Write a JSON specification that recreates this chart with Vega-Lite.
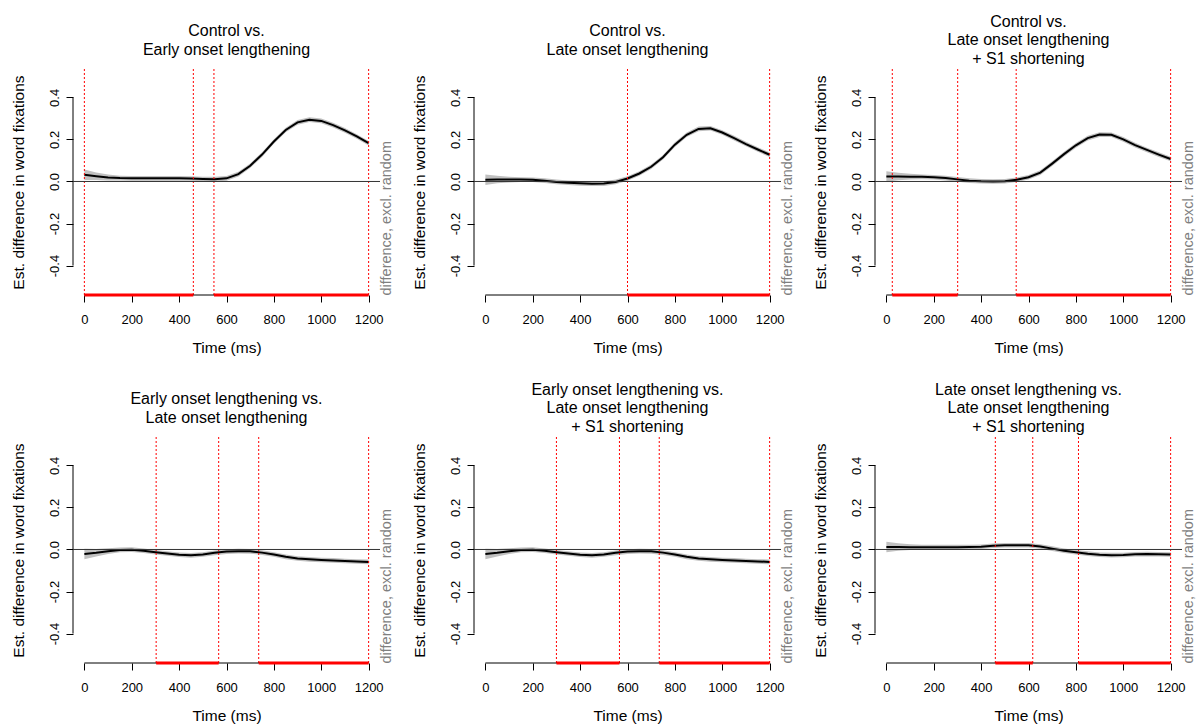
{
"$schema": "https://vega.github.io/schema/vega-lite/v6.json",
"background": "white",
"padding": {"left": 11, "top": 13, "right": 5, "bottom": 5},
"datasets": {
"curves": [
{"p":"p1","t":0,"fit":0.032,"lo":0.007,"hi":0.057},{"p":"p1","t":50,"fit":0.025,"lo":0.007,"hi":0.043},{"p":"p1","t":100,"fit":0.019,"lo":0.005,"hi":0.033},{"p":"p1","t":150,"fit":0.016,"lo":0.005,"hi":0.027},{"p":"p1","t":200,"fit":0.015,"lo":0.004,"hi":0.026},{"p":"p1","t":250,"fit":0.015,"lo":0.004,"hi":0.026},{"p":"p1","t":300,"fit":0.015,"lo":0.004,"hi":0.026},{"p":"p1","t":350,"fit":0.015,"lo":0.004,"hi":0.026},{"p":"p1","t":400,"fit":0.015,"lo":0.004,"hi":0.026},{"p":"p1","t":450,"fit":0.014,"lo":0.003,"hi":0.025},{"p":"p1","t":500,"fit":0.012,"lo":0.001,"hi":0.023},{"p":"p1","t":550,"fit":0.011,"lo":0.0,"hi":0.022},{"p":"p1","t":600,"fit":0.015,"lo":0.004,"hi":0.026},{"p":"p1","t":650,"fit":0.035,"lo":0.024,"hi":0.046},{"p":"p1","t":700,"fit":0.075,"lo":0.064,"hi":0.086},{"p":"p1","t":750,"fit":0.128,"lo":0.117,"hi":0.139},{"p":"p1","t":800,"fit":0.19,"lo":0.179,"hi":0.201},{"p":"p1","t":850,"fit":0.245,"lo":0.234,"hi":0.256},{"p":"p1","t":900,"fit":0.281,"lo":0.27,"hi":0.292},{"p":"p1","t":950,"fit":0.294,"lo":0.283,"hi":0.305},{"p":"p1","t":1000,"fit":0.288,"lo":0.277,"hi":0.299},{"p":"p1","t":1050,"fit":0.268,"lo":0.257,"hi":0.279},{"p":"p1","t":1100,"fit":0.243,"lo":0.232,"hi":0.254},{"p":"p1","t":1150,"fit":0.214,"lo":0.203,"hi":0.225},{"p":"p1","t":1200,"fit":0.182,"lo":0.171,"hi":0.193},
{"p":"p2","t":0,"fit":0.008,"lo":-0.017,"hi":0.033},{"p":"p2","t":50,"fit":0.009,"lo":-0.009,"hi":0.027},{"p":"p2","t":100,"fit":0.009,"lo":-0.005,"hi":0.023},{"p":"p2","t":150,"fit":0.009,"lo":-0.002,"hi":0.02},{"p":"p2","t":200,"fit":0.008,"lo":-0.003,"hi":0.019},{"p":"p2","t":250,"fit":0.004,"lo":-0.007,"hi":0.015},{"p":"p2","t":300,"fit":-0.002,"lo":-0.013,"hi":0.009},{"p":"p2","t":350,"fit":-0.006,"lo":-0.017,"hi":0.005},{"p":"p2","t":400,"fit":-0.009,"lo":-0.02,"hi":0.002},{"p":"p2","t":450,"fit":-0.011,"lo":-0.022,"hi":0.0},{"p":"p2","t":500,"fit":-0.01,"lo":-0.021,"hi":0.001},{"p":"p2","t":550,"fit":-0.002,"lo":-0.013,"hi":0.009},{"p":"p2","t":600,"fit":0.014,"lo":0.003,"hi":0.025},{"p":"p2","t":650,"fit":0.038,"lo":0.027,"hi":0.049},{"p":"p2","t":700,"fit":0.07,"lo":0.059,"hi":0.081},{"p":"p2","t":750,"fit":0.115,"lo":0.104,"hi":0.126},{"p":"p2","t":800,"fit":0.175,"lo":0.164,"hi":0.186},{"p":"p2","t":850,"fit":0.222,"lo":0.211,"hi":0.233},{"p":"p2","t":900,"fit":0.25,"lo":0.239,"hi":0.261},{"p":"p2","t":950,"fit":0.253,"lo":0.242,"hi":0.264},{"p":"p2","t":1000,"fit":0.233,"lo":0.222,"hi":0.244},{"p":"p2","t":1050,"fit":0.206,"lo":0.195,"hi":0.217},{"p":"p2","t":1100,"fit":0.178,"lo":0.167,"hi":0.189},{"p":"p2","t":1150,"fit":0.152,"lo":0.141,"hi":0.163},{"p":"p2","t":1200,"fit":0.127,"lo":0.116,"hi":0.138},
{"p":"p3","t":0,"fit":0.024,"lo":-0.001,"hi":0.049},{"p":"p3","t":50,"fit":0.024,"lo":0.006,"hi":0.042},{"p":"p3","t":100,"fit":0.023,"lo":0.009,"hi":0.037},{"p":"p3","t":150,"fit":0.022,"lo":0.011,"hi":0.033},{"p":"p3","t":200,"fit":0.02,"lo":0.009,"hi":0.031},{"p":"p3","t":250,"fit":0.016,"lo":0.005,"hi":0.027},{"p":"p3","t":300,"fit":0.01,"lo":-0.001,"hi":0.021},{"p":"p3","t":350,"fit":0.004,"lo":-0.007,"hi":0.015},{"p":"p3","t":400,"fit":0.001,"lo":-0.01,"hi":0.012},{"p":"p3","t":450,"fit":0.0,"lo":-0.011,"hi":0.011},{"p":"p3","t":500,"fit":0.001,"lo":-0.01,"hi":0.012},{"p":"p3","t":550,"fit":0.008,"lo":-0.003,"hi":0.019},{"p":"p3","t":600,"fit":0.02,"lo":0.009,"hi":0.031},{"p":"p3","t":650,"fit":0.042,"lo":0.031,"hi":0.053},{"p":"p3","t":700,"fit":0.085,"lo":0.074,"hi":0.096},{"p":"p3","t":750,"fit":0.13,"lo":0.119,"hi":0.141},{"p":"p3","t":800,"fit":0.172,"lo":0.161,"hi":0.183},{"p":"p3","t":850,"fit":0.206,"lo":0.195,"hi":0.217},{"p":"p3","t":900,"fit":0.223,"lo":0.212,"hi":0.234},{"p":"p3","t":950,"fit":0.222,"lo":0.211,"hi":0.233},{"p":"p3","t":1000,"fit":0.2,"lo":0.189,"hi":0.211},{"p":"p3","t":1050,"fit":0.173,"lo":0.162,"hi":0.184},{"p":"p3","t":1100,"fit":0.15,"lo":0.139,"hi":0.161},{"p":"p3","t":1150,"fit":0.128,"lo":0.117,"hi":0.139},{"p":"p3","t":1200,"fit":0.107,"lo":0.096,"hi":0.118},
{"p":"p4","t":0,"fit":-0.021,"lo":-0.046,"hi":0.004},{"p":"p4","t":50,"fit":-0.016,"lo":-0.034,"hi":0.002},{"p":"p4","t":100,"fit":-0.008,"lo":-0.022,"hi":0.006},{"p":"p4","t":150,"fit":-0.002,"lo":-0.013,"hi":0.009},{"p":"p4","t":200,"fit":-0.001,"lo":-0.012,"hi":0.01},{"p":"p4","t":250,"fit":-0.006,"lo":-0.017,"hi":0.005},{"p":"p4","t":300,"fit":-0.013,"lo":-0.024,"hi":-0.002},{"p":"p4","t":350,"fit":-0.019,"lo":-0.03,"hi":-0.008},{"p":"p4","t":400,"fit":-0.025,"lo":-0.036,"hi":-0.014},{"p":"p4","t":450,"fit":-0.028,"lo":-0.039,"hi":-0.017},{"p":"p4","t":500,"fit":-0.024,"lo":-0.035,"hi":-0.013},{"p":"p4","t":550,"fit":-0.016,"lo":-0.027,"hi":-0.005},{"p":"p4","t":600,"fit":-0.01,"lo":-0.021,"hi":0.001},{"p":"p4","t":650,"fit":-0.008,"lo":-0.019,"hi":0.003},{"p":"p4","t":700,"fit":-0.009,"lo":-0.02,"hi":0.002},{"p":"p4","t":750,"fit":-0.015,"lo":-0.026,"hi":-0.004},{"p":"p4","t":800,"fit":-0.024,"lo":-0.035,"hi":-0.013},{"p":"p4","t":850,"fit":-0.035,"lo":-0.046,"hi":-0.024},{"p":"p4","t":900,"fit":-0.043,"lo":-0.054,"hi":-0.032},{"p":"p4","t":950,"fit":-0.047,"lo":-0.058,"hi":-0.036},{"p":"p4","t":1000,"fit":-0.05,"lo":-0.061,"hi":-0.039},{"p":"p4","t":1050,"fit":-0.052,"lo":-0.063,"hi":-0.041},{"p":"p4","t":1100,"fit":-0.055,"lo":-0.066,"hi":-0.044},{"p":"p4","t":1150,"fit":-0.057,"lo":-0.068,"hi":-0.046},{"p":"p4","t":1200,"fit":-0.059,"lo":-0.07,"hi":-0.048},
{"p":"p5","t":0,"fit":-0.021,"lo":-0.046,"hi":0.004},{"p":"p5","t":50,"fit":-0.016,"lo":-0.034,"hi":0.002},{"p":"p5","t":100,"fit":-0.008,"lo":-0.022,"hi":0.006},{"p":"p5","t":150,"fit":-0.002,"lo":-0.013,"hi":0.009},{"p":"p5","t":200,"fit":-0.001,"lo":-0.012,"hi":0.01},{"p":"p5","t":250,"fit":-0.006,"lo":-0.017,"hi":0.005},{"p":"p5","t":300,"fit":-0.013,"lo":-0.024,"hi":-0.002},{"p":"p5","t":350,"fit":-0.019,"lo":-0.03,"hi":-0.008},{"p":"p5","t":400,"fit":-0.025,"lo":-0.036,"hi":-0.014},{"p":"p5","t":450,"fit":-0.028,"lo":-0.039,"hi":-0.017},{"p":"p5","t":500,"fit":-0.024,"lo":-0.035,"hi":-0.013},{"p":"p5","t":550,"fit":-0.016,"lo":-0.027,"hi":-0.005},{"p":"p5","t":600,"fit":-0.01,"lo":-0.021,"hi":0.001},{"p":"p5","t":650,"fit":-0.008,"lo":-0.019,"hi":0.003},{"p":"p5","t":700,"fit":-0.009,"lo":-0.02,"hi":0.002},{"p":"p5","t":750,"fit":-0.015,"lo":-0.026,"hi":-0.004},{"p":"p5","t":800,"fit":-0.024,"lo":-0.035,"hi":-0.013},{"p":"p5","t":850,"fit":-0.035,"lo":-0.046,"hi":-0.024},{"p":"p5","t":900,"fit":-0.043,"lo":-0.054,"hi":-0.032},{"p":"p5","t":950,"fit":-0.047,"lo":-0.058,"hi":-0.036},{"p":"p5","t":1000,"fit":-0.05,"lo":-0.061,"hi":-0.039},{"p":"p5","t":1050,"fit":-0.052,"lo":-0.063,"hi":-0.041},{"p":"p5","t":1100,"fit":-0.055,"lo":-0.066,"hi":-0.044},{"p":"p5","t":1150,"fit":-0.057,"lo":-0.068,"hi":-0.046},{"p":"p5","t":1200,"fit":-0.059,"lo":-0.07,"hi":-0.048},
{"p":"p6","t":0,"fit":0.012,"lo":-0.013,"hi":0.037},{"p":"p6","t":50,"fit":0.012,"lo":-0.006,"hi":0.03},{"p":"p6","t":100,"fit":0.011,"lo":-0.003,"hi":0.025},{"p":"p6","t":150,"fit":0.011,"lo":0.0,"hi":0.022},{"p":"p6","t":200,"fit":0.011,"lo":0.0,"hi":0.022},{"p":"p6","t":250,"fit":0.011,"lo":0.0,"hi":0.022},{"p":"p6","t":300,"fit":0.011,"lo":0.0,"hi":0.022},{"p":"p6","t":350,"fit":0.012,"lo":0.001,"hi":0.023},{"p":"p6","t":400,"fit":0.013,"lo":0.002,"hi":0.024},{"p":"p6","t":450,"fit":0.018,"lo":0.007,"hi":0.029},{"p":"p6","t":500,"fit":0.02,"lo":0.009,"hi":0.031},{"p":"p6","t":550,"fit":0.02,"lo":0.009,"hi":0.031},{"p":"p6","t":600,"fit":0.02,"lo":0.009,"hi":0.031},{"p":"p6","t":650,"fit":0.014,"lo":0.003,"hi":0.025},{"p":"p6","t":700,"fit":0.004,"lo":-0.007,"hi":0.015},{"p":"p6","t":750,"fit":-0.006,"lo":-0.017,"hi":0.005},{"p":"p6","t":800,"fit":-0.013,"lo":-0.024,"hi":-0.002},{"p":"p6","t":850,"fit":-0.02,"lo":-0.031,"hi":-0.009},{"p":"p6","t":900,"fit":-0.025,"lo":-0.036,"hi":-0.014},{"p":"p6","t":950,"fit":-0.027,"lo":-0.038,"hi":-0.016},{"p":"p6","t":1000,"fit":-0.026,"lo":-0.037,"hi":-0.015},{"p":"p6","t":1050,"fit":-0.023,"lo":-0.034,"hi":-0.012},{"p":"p6","t":1100,"fit":-0.022,"lo":-0.033,"hi":-0.011},{"p":"p6","t":1150,"fit":-0.023,"lo":-0.034,"hi":-0.012},{"p":"p6","t":1200,"fit":-0.024,"lo":-0.035,"hi":-0.013}
],
"sig": [
{"p":"p1","t":0,"t2":460},{"p":"p1","t":547,"t2":1200},
{"p":"p2","t":600,"t2":1200},
{"p":"p3","t":25,"t2":301},{"p":"p3","t":548,"t2":1200},
{"p":"p4","t":303,"t2":567},{"p":"p4","t":736,"t2":1200},
{"p":"p5","t":300,"t2":566},{"p":"p5","t":734,"t2":1200},
{"p":"p6","t":460,"t2":618},{"p":"p6","t":811,"t2":1200}
],
"vlines": [
{"p":"p1","t":0},{"p":"p1","t":460},{"p":"p1","t":547},{"p":"p1","t":1200},
{"p":"p2","t":600},{"p":"p2","t":1200},
{"p":"p3","t":25},{"p":"p3","t":301},{"p":"p3","t":548},{"p":"p3","t":1200},
{"p":"p4","t":303},{"p":"p4","t":567},{"p":"p4","t":736},{"p":"p4","t":1200},
{"p":"p5","t":300},{"p":"p5","t":566},{"p":"p5","t":734},{"p":"p5","t":1200},
{"p":"p6","t":460},{"p":"p6","t":618},{"p":"p6","t":811},{"p":"p6","t":1200}
]
},
"columns": 3,
"spacing": {"row": 142, "column": 94},
"bounds": "flush",
"concat": [
{"title": {"text": ["Control vs.", "Early onset lengthening"], "offset": 10.6}, "width": 307, "height": 226,
 "layer": [
  {"layer": [
   {"data": {"name": "curves"}, "transform": [{"filter": "datum.p === 'p1'"}], "mark": {"type": "area", "color": "#c0c0c0", "orient": "vertical"},
    "encoding": {"x": {"field": "t", "type": "quantitative", "scale": {"domain": [-48, 1248], "nice": false, "zero": false}, "axis": {"title": "Time (ms)", "values": [0, 200, 400, 600, 800, 1000, 1200], "format": "d", "labelPadding": 11, "titlePadding": 14}},
     "y": {"field": "lo", "type": "quantitative", "scale": {"domain": [-0.54, 0.535], "nice": false, "zero": false}, "axis": {"title": "Est. difference in word fixations", "values": [-0.4, -0.2, 0, 0.2, 0.4], "labelExpr": "replace(format(datum.value, '.1f'), '−', '-')", "labelAngle": 270, "labelAlign": "center", "labelBaseline": "bottom", "labelPadding": 5, "titlePadding": 21.5, "titleBaseline": "bottom"}},
     "y2": {"field": "hi"}}},
   {"data": {"name": "curves"}, "transform": [{"filter": "datum.p === 'p1'"}], "mark": {"type": "line", "color": "#000000", "strokeWidth": 2},
    "encoding": {"x": {"field": "t", "type": "quantitative", "scale": {"domain": [-48, 1248], "nice": false, "zero": false}}, "y": {"field": "fit", "type": "quantitative", "scale": {"domain": [-0.54, 0.535], "nice": false, "zero": false}}}},
   {"data": {"name": "vlines"}, "transform": [{"filter": "datum.p === 'p1'"}], "mark": {"type": "rule", "color": "#ff0000", "strokeDash": [2, 2], "strokeWidth": 1},
    "encoding": {"x": {"field": "t", "type": "quantitative", "scale": {"domain": [-48, 1248], "nice": false, "zero": false}}}},
   {"data": {"values": [{}]}, "mark": {"type": "rule", "color": "#000000"},
    "encoding": {"x": {"datum": 0, "scale": {"domain": [-48, 1248], "nice": false, "zero": false}}, "x2": {"datum": 1200}, "y": {"datum": -0.54, "scale": {"domain": [-0.54, 0.535], "nice": false, "zero": false}}}},
   {"data": {"name": "sig"}, "transform": [{"filter": "datum.p === 'p1'"}], "mark": {"type": "rule", "color": "#ff0000", "strokeWidth": 3},
    "encoding": {"x": {"field": "t", "type": "quantitative", "scale": {"domain": [-48, 1248], "nice": false, "zero": false}}, "x2": {"field": "t2"}, "y": {"datum": -0.54, "scale": {"domain": [-0.54, 0.535], "nice": false, "zero": false}}}},
   {"data": {"values": [{}]}, "mark": {"type": "rule", "color": "#000000"},
    "encoding": {"x": {"datum": -48, "scale": {"domain": [-48, 1248], "nice": false, "zero": false}}, "y": {"datum": -0.4, "scale": {"domain": [-0.54, 0.535], "nice": false, "zero": false}}, "y2": {"datum": 0.4}}}
  ]},
  {"data": {"values": [{}]}, "mark": {"type": "rule", "color": "#333333", "strokeWidth": 1},
   "encoding": {"y": {"datum": 0, "scale": {"domain": [-0.54, 0.535], "nice": false, "zero": false}, "axis": {"orient": "right", "title": "difference, excl. random", "labels": false, "ticks": false, "domain": false, "titleColor": "#7f7f7f", "titleFontSize": 14.5, "titleAngle": 270, "titleAnchor": "start", "titleAlign": "left", "titleBaseline": "top", "titlePadding": -1}}}}
 ],
 "resolve": {"axis": {"y": "independent"}}},
{"title": {"text": ["Control vs.", "Late onset lengthening"], "offset": 10.6}, "width": 307, "height": 226,
 "layer": [
  {"layer": [
   {"data": {"name": "curves"}, "transform": [{"filter": "datum.p === 'p2'"}], "mark": {"type": "area", "color": "#c0c0c0", "orient": "vertical"},
    "encoding": {"x": {"field": "t", "type": "quantitative", "scale": {"domain": [-48, 1248], "nice": false, "zero": false}, "axis": {"title": "Time (ms)", "values": [0, 200, 400, 600, 800, 1000, 1200], "format": "d", "labelPadding": 11, "titlePadding": 14}},
     "y": {"field": "lo", "type": "quantitative", "scale": {"domain": [-0.54, 0.535], "nice": false, "zero": false}, "axis": {"title": "Est. difference in word fixations", "values": [-0.4, -0.2, 0, 0.2, 0.4], "labelExpr": "replace(format(datum.value, '.1f'), '−', '-')", "labelAngle": 270, "labelAlign": "center", "labelBaseline": "bottom", "labelPadding": 5, "titlePadding": 21.5, "titleBaseline": "bottom"}},
     "y2": {"field": "hi"}}},
   {"data": {"name": "curves"}, "transform": [{"filter": "datum.p === 'p2'"}], "mark": {"type": "line", "color": "#000000", "strokeWidth": 2},
    "encoding": {"x": {"field": "t", "type": "quantitative", "scale": {"domain": [-48, 1248], "nice": false, "zero": false}}, "y": {"field": "fit", "type": "quantitative", "scale": {"domain": [-0.54, 0.535], "nice": false, "zero": false}}}},
   {"data": {"name": "vlines"}, "transform": [{"filter": "datum.p === 'p2'"}], "mark": {"type": "rule", "color": "#ff0000", "strokeDash": [2, 2], "strokeWidth": 1},
    "encoding": {"x": {"field": "t", "type": "quantitative", "scale": {"domain": [-48, 1248], "nice": false, "zero": false}}}},
   {"data": {"values": [{}]}, "mark": {"type": "rule", "color": "#000000"},
    "encoding": {"x": {"datum": 0, "scale": {"domain": [-48, 1248], "nice": false, "zero": false}}, "x2": {"datum": 1200}, "y": {"datum": -0.54, "scale": {"domain": [-0.54, 0.535], "nice": false, "zero": false}}}},
   {"data": {"name": "sig"}, "transform": [{"filter": "datum.p === 'p2'"}], "mark": {"type": "rule", "color": "#ff0000", "strokeWidth": 3},
    "encoding": {"x": {"field": "t", "type": "quantitative", "scale": {"domain": [-48, 1248], "nice": false, "zero": false}}, "x2": {"field": "t2"}, "y": {"datum": -0.54, "scale": {"domain": [-0.54, 0.535], "nice": false, "zero": false}}}},
   {"data": {"values": [{}]}, "mark": {"type": "rule", "color": "#000000"},
    "encoding": {"x": {"datum": -48, "scale": {"domain": [-48, 1248], "nice": false, "zero": false}}, "y": {"datum": -0.4, "scale": {"domain": [-0.54, 0.535], "nice": false, "zero": false}}, "y2": {"datum": 0.4}}}
  ]},
  {"data": {"values": [{}]}, "mark": {"type": "rule", "color": "#333333", "strokeWidth": 1},
   "encoding": {"y": {"datum": 0, "scale": {"domain": [-0.54, 0.535], "nice": false, "zero": false}, "axis": {"orient": "right", "title": "difference, excl. random", "labels": false, "ticks": false, "domain": false, "titleColor": "#7f7f7f", "titleFontSize": 14.5, "titleAngle": 270, "titleAnchor": "start", "titleAlign": "left", "titleBaseline": "top", "titlePadding": -1}}}}
 ],
 "resolve": {"axis": {"y": "independent"}}},
{"title": {"text": ["Control vs.", "Late onset lengthening", "+ S1 shortening"], "offset": 1.9}, "width": 307, "height": 226,
 "layer": [
  {"layer": [
   {"data": {"name": "curves"}, "transform": [{"filter": "datum.p === 'p3'"}], "mark": {"type": "area", "color": "#c0c0c0", "orient": "vertical"},
    "encoding": {"x": {"field": "t", "type": "quantitative", "scale": {"domain": [-48, 1248], "nice": false, "zero": false}, "axis": {"title": "Time (ms)", "values": [0, 200, 400, 600, 800, 1000, 1200], "format": "d", "labelPadding": 11, "titlePadding": 14}},
     "y": {"field": "lo", "type": "quantitative", "scale": {"domain": [-0.54, 0.535], "nice": false, "zero": false}, "axis": {"title": "Est. difference in word fixations", "values": [-0.4, -0.2, 0, 0.2, 0.4], "labelExpr": "replace(format(datum.value, '.1f'), '−', '-')", "labelAngle": 270, "labelAlign": "center", "labelBaseline": "bottom", "labelPadding": 5, "titlePadding": 21.5, "titleBaseline": "bottom"}},
     "y2": {"field": "hi"}}},
   {"data": {"name": "curves"}, "transform": [{"filter": "datum.p === 'p3'"}], "mark": {"type": "line", "color": "#000000", "strokeWidth": 2},
    "encoding": {"x": {"field": "t", "type": "quantitative", "scale": {"domain": [-48, 1248], "nice": false, "zero": false}}, "y": {"field": "fit", "type": "quantitative", "scale": {"domain": [-0.54, 0.535], "nice": false, "zero": false}}}},
   {"data": {"name": "vlines"}, "transform": [{"filter": "datum.p === 'p3'"}], "mark": {"type": "rule", "color": "#ff0000", "strokeDash": [2, 2], "strokeWidth": 1},
    "encoding": {"x": {"field": "t", "type": "quantitative", "scale": {"domain": [-48, 1248], "nice": false, "zero": false}}}},
   {"data": {"values": [{}]}, "mark": {"type": "rule", "color": "#000000"},
    "encoding": {"x": {"datum": 0, "scale": {"domain": [-48, 1248], "nice": false, "zero": false}}, "x2": {"datum": 1200}, "y": {"datum": -0.54, "scale": {"domain": [-0.54, 0.535], "nice": false, "zero": false}}}},
   {"data": {"name": "sig"}, "transform": [{"filter": "datum.p === 'p3'"}], "mark": {"type": "rule", "color": "#ff0000", "strokeWidth": 3},
    "encoding": {"x": {"field": "t", "type": "quantitative", "scale": {"domain": [-48, 1248], "nice": false, "zero": false}}, "x2": {"field": "t2"}, "y": {"datum": -0.54, "scale": {"domain": [-0.54, 0.535], "nice": false, "zero": false}}}},
   {"data": {"values": [{}]}, "mark": {"type": "rule", "color": "#000000"},
    "encoding": {"x": {"datum": -48, "scale": {"domain": [-48, 1248], "nice": false, "zero": false}}, "y": {"datum": -0.4, "scale": {"domain": [-0.54, 0.535], "nice": false, "zero": false}}, "y2": {"datum": 0.4}}}
  ]},
  {"data": {"values": [{}]}, "mark": {"type": "rule", "color": "#333333", "strokeWidth": 1},
   "encoding": {"y": {"datum": 0, "scale": {"domain": [-0.54, 0.535], "nice": false, "zero": false}, "axis": {"orient": "right", "title": "difference, excl. random", "labels": false, "ticks": false, "domain": false, "titleColor": "#7f7f7f", "titleFontSize": 14.5, "titleAngle": 270, "titleAnchor": "start", "titleAlign": "left", "titleBaseline": "top", "titlePadding": -1}}}}
 ],
 "resolve": {"axis": {"y": "independent"}}},
{"title": {"text": ["Early onset lengthening vs.", "Late onset lengthening"], "offset": 10.6}, "width": 307, "height": 226,
 "layer": [
  {"layer": [
   {"data": {"name": "curves"}, "transform": [{"filter": "datum.p === 'p4'"}], "mark": {"type": "area", "color": "#c0c0c0", "orient": "vertical"},
    "encoding": {"x": {"field": "t", "type": "quantitative", "scale": {"domain": [-48, 1248], "nice": false, "zero": false}, "axis": {"title": "Time (ms)", "values": [0, 200, 400, 600, 800, 1000, 1200], "format": "d", "labelPadding": 11, "titlePadding": 14}},
     "y": {"field": "lo", "type": "quantitative", "scale": {"domain": [-0.54, 0.535], "nice": false, "zero": false}, "axis": {"title": "Est. difference in word fixations", "values": [-0.4, -0.2, 0, 0.2, 0.4], "labelExpr": "replace(format(datum.value, '.1f'), '−', '-')", "labelAngle": 270, "labelAlign": "center", "labelBaseline": "bottom", "labelPadding": 5, "titlePadding": 21.5, "titleBaseline": "bottom"}},
     "y2": {"field": "hi"}}},
   {"data": {"name": "curves"}, "transform": [{"filter": "datum.p === 'p4'"}], "mark": {"type": "line", "color": "#000000", "strokeWidth": 2},
    "encoding": {"x": {"field": "t", "type": "quantitative", "scale": {"domain": [-48, 1248], "nice": false, "zero": false}}, "y": {"field": "fit", "type": "quantitative", "scale": {"domain": [-0.54, 0.535], "nice": false, "zero": false}}}},
   {"data": {"name": "vlines"}, "transform": [{"filter": "datum.p === 'p4'"}], "mark": {"type": "rule", "color": "#ff0000", "strokeDash": [2, 2], "strokeWidth": 1},
    "encoding": {"x": {"field": "t", "type": "quantitative", "scale": {"domain": [-48, 1248], "nice": false, "zero": false}}}},
   {"data": {"values": [{}]}, "mark": {"type": "rule", "color": "#000000"},
    "encoding": {"x": {"datum": 0, "scale": {"domain": [-48, 1248], "nice": false, "zero": false}}, "x2": {"datum": 1200}, "y": {"datum": -0.54, "scale": {"domain": [-0.54, 0.535], "nice": false, "zero": false}}}},
   {"data": {"name": "sig"}, "transform": [{"filter": "datum.p === 'p4'"}], "mark": {"type": "rule", "color": "#ff0000", "strokeWidth": 3},
    "encoding": {"x": {"field": "t", "type": "quantitative", "scale": {"domain": [-48, 1248], "nice": false, "zero": false}}, "x2": {"field": "t2"}, "y": {"datum": -0.54, "scale": {"domain": [-0.54, 0.535], "nice": false, "zero": false}}}},
   {"data": {"values": [{}]}, "mark": {"type": "rule", "color": "#000000"},
    "encoding": {"x": {"datum": -48, "scale": {"domain": [-48, 1248], "nice": false, "zero": false}}, "y": {"datum": -0.4, "scale": {"domain": [-0.54, 0.535], "nice": false, "zero": false}}, "y2": {"datum": 0.4}}}
  ]},
  {"data": {"values": [{}]}, "mark": {"type": "rule", "color": "#333333", "strokeWidth": 1},
   "encoding": {"y": {"datum": 0, "scale": {"domain": [-0.54, 0.535], "nice": false, "zero": false}, "axis": {"orient": "right", "title": "difference, excl. random", "labels": false, "ticks": false, "domain": false, "titleColor": "#7f7f7f", "titleFontSize": 14.5, "titleAngle": 270, "titleAnchor": "start", "titleAlign": "left", "titleBaseline": "top", "titlePadding": -1}}}}
 ],
 "resolve": {"axis": {"y": "independent"}}},
{"title": {"text": ["Early onset lengthening vs.", "Late onset lengthening", "+ S1 shortening"], "offset": 1.9}, "width": 307, "height": 226,
 "layer": [
  {"layer": [
   {"data": {"name": "curves"}, "transform": [{"filter": "datum.p === 'p5'"}], "mark": {"type": "area", "color": "#c0c0c0", "orient": "vertical"},
    "encoding": {"x": {"field": "t", "type": "quantitative", "scale": {"domain": [-48, 1248], "nice": false, "zero": false}, "axis": {"title": "Time (ms)", "values": [0, 200, 400, 600, 800, 1000, 1200], "format": "d", "labelPadding": 11, "titlePadding": 14}},
     "y": {"field": "lo", "type": "quantitative", "scale": {"domain": [-0.54, 0.535], "nice": false, "zero": false}, "axis": {"title": "Est. difference in word fixations", "values": [-0.4, -0.2, 0, 0.2, 0.4], "labelExpr": "replace(format(datum.value, '.1f'), '−', '-')", "labelAngle": 270, "labelAlign": "center", "labelBaseline": "bottom", "labelPadding": 5, "titlePadding": 21.5, "titleBaseline": "bottom"}},
     "y2": {"field": "hi"}}},
   {"data": {"name": "curves"}, "transform": [{"filter": "datum.p === 'p5'"}], "mark": {"type": "line", "color": "#000000", "strokeWidth": 2},
    "encoding": {"x": {"field": "t", "type": "quantitative", "scale": {"domain": [-48, 1248], "nice": false, "zero": false}}, "y": {"field": "fit", "type": "quantitative", "scale": {"domain": [-0.54, 0.535], "nice": false, "zero": false}}}},
   {"data": {"name": "vlines"}, "transform": [{"filter": "datum.p === 'p5'"}], "mark": {"type": "rule", "color": "#ff0000", "strokeDash": [2, 2], "strokeWidth": 1},
    "encoding": {"x": {"field": "t", "type": "quantitative", "scale": {"domain": [-48, 1248], "nice": false, "zero": false}}}},
   {"data": {"values": [{}]}, "mark": {"type": "rule", "color": "#000000"},
    "encoding": {"x": {"datum": 0, "scale": {"domain": [-48, 1248], "nice": false, "zero": false}}, "x2": {"datum": 1200}, "y": {"datum": -0.54, "scale": {"domain": [-0.54, 0.535], "nice": false, "zero": false}}}},
   {"data": {"name": "sig"}, "transform": [{"filter": "datum.p === 'p5'"}], "mark": {"type": "rule", "color": "#ff0000", "strokeWidth": 3},
    "encoding": {"x": {"field": "t", "type": "quantitative", "scale": {"domain": [-48, 1248], "nice": false, "zero": false}}, "x2": {"field": "t2"}, "y": {"datum": -0.54, "scale": {"domain": [-0.54, 0.535], "nice": false, "zero": false}}}},
   {"data": {"values": [{}]}, "mark": {"type": "rule", "color": "#000000"},
    "encoding": {"x": {"datum": -48, "scale": {"domain": [-48, 1248], "nice": false, "zero": false}}, "y": {"datum": -0.4, "scale": {"domain": [-0.54, 0.535], "nice": false, "zero": false}}, "y2": {"datum": 0.4}}}
  ]},
  {"data": {"values": [{}]}, "mark": {"type": "rule", "color": "#333333", "strokeWidth": 1},
   "encoding": {"y": {"datum": 0, "scale": {"domain": [-0.54, 0.535], "nice": false, "zero": false}, "axis": {"orient": "right", "title": "difference, excl. random", "labels": false, "ticks": false, "domain": false, "titleColor": "#7f7f7f", "titleFontSize": 14.5, "titleAngle": 270, "titleAnchor": "start", "titleAlign": "left", "titleBaseline": "top", "titlePadding": -1}}}}
 ],
 "resolve": {"axis": {"y": "independent"}}},
{"title": {"text": ["Late onset lengthening vs.", "Late onset lengthening", "+ S1 shortening"], "offset": 1.9}, "width": 307, "height": 226,
 "layer": [
  {"layer": [
   {"data": {"name": "curves"}, "transform": [{"filter": "datum.p === 'p6'"}], "mark": {"type": "area", "color": "#c0c0c0", "orient": "vertical"},
    "encoding": {"x": {"field": "t", "type": "quantitative", "scale": {"domain": [-48, 1248], "nice": false, "zero": false}, "axis": {"title": "Time (ms)", "values": [0, 200, 400, 600, 800, 1000, 1200], "format": "d", "labelPadding": 11, "titlePadding": 14}},
     "y": {"field": "lo", "type": "quantitative", "scale": {"domain": [-0.54, 0.535], "nice": false, "zero": false}, "axis": {"title": "Est. difference in word fixations", "values": [-0.4, -0.2, 0, 0.2, 0.4], "labelExpr": "replace(format(datum.value, '.1f'), '−', '-')", "labelAngle": 270, "labelAlign": "center", "labelBaseline": "bottom", "labelPadding": 5, "titlePadding": 21.5, "titleBaseline": "bottom"}},
     "y2": {"field": "hi"}}},
   {"data": {"name": "curves"}, "transform": [{"filter": "datum.p === 'p6'"}], "mark": {"type": "line", "color": "#000000", "strokeWidth": 2},
    "encoding": {"x": {"field": "t", "type": "quantitative", "scale": {"domain": [-48, 1248], "nice": false, "zero": false}}, "y": {"field": "fit", "type": "quantitative", "scale": {"domain": [-0.54, 0.535], "nice": false, "zero": false}}}},
   {"data": {"name": "vlines"}, "transform": [{"filter": "datum.p === 'p6'"}], "mark": {"type": "rule", "color": "#ff0000", "strokeDash": [2, 2], "strokeWidth": 1},
    "encoding": {"x": {"field": "t", "type": "quantitative", "scale": {"domain": [-48, 1248], "nice": false, "zero": false}}}},
   {"data": {"values": [{}]}, "mark": {"type": "rule", "color": "#000000"},
    "encoding": {"x": {"datum": 0, "scale": {"domain": [-48, 1248], "nice": false, "zero": false}}, "x2": {"datum": 1200}, "y": {"datum": -0.54, "scale": {"domain": [-0.54, 0.535], "nice": false, "zero": false}}}},
   {"data": {"name": "sig"}, "transform": [{"filter": "datum.p === 'p6'"}], "mark": {"type": "rule", "color": "#ff0000", "strokeWidth": 3},
    "encoding": {"x": {"field": "t", "type": "quantitative", "scale": {"domain": [-48, 1248], "nice": false, "zero": false}}, "x2": {"field": "t2"}, "y": {"datum": -0.54, "scale": {"domain": [-0.54, 0.535], "nice": false, "zero": false}}}},
   {"data": {"values": [{}]}, "mark": {"type": "rule", "color": "#000000"},
    "encoding": {"x": {"datum": -48, "scale": {"domain": [-48, 1248], "nice": false, "zero": false}}, "y": {"datum": -0.4, "scale": {"domain": [-0.54, 0.535], "nice": false, "zero": false}}, "y2": {"datum": 0.4}}}
  ]},
  {"data": {"values": [{}]}, "mark": {"type": "rule", "color": "#333333", "strokeWidth": 1},
   "encoding": {"y": {"datum": 0, "scale": {"domain": [-0.54, 0.535], "nice": false, "zero": false}, "axis": {"orient": "right", "title": "difference, excl. random", "labels": false, "ticks": false, "domain": false, "titleColor": "#7f7f7f", "titleFontSize": 14.5, "titleAngle": 270, "titleAnchor": "start", "titleAlign": "left", "titleBaseline": "top", "titlePadding": -1}}}}
 ],
 "resolve": {"axis": {"y": "independent"}}}
],
"config": {
 "view": {"stroke": null},
 "font": "Liberation Sans",
 "axis": {"grid": false, "domain": false, "tickSize": 7, "tickColor": "#000000", "tickWidth": 1, "labelColor": "#000000", "labelFont": "Liberation Sans", "labelFontSize": 13, "titleFont": "Liberation Sans", "titleFontSize": 15.5, "titleFontWeight": "normal", "titleColor": "#000000", "labelFlush": false, "labelOverlap": false},
 "title": {"font": "Liberation Sans", "fontSize": 16, "fontWeight": "normal", "color": "#000000", "frame": "group", "anchor": "middle", "baseline": "middle", "lineHeight": 18.5}
}
}
